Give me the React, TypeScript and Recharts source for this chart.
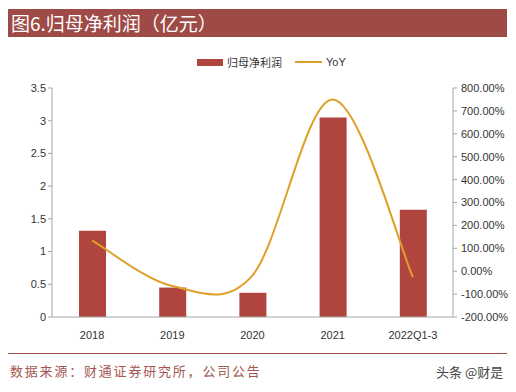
import { ComposedChart, Bar, Line, XAxis, YAxis } from 'recharts'

const categories = ['2018', '2019', '2020', '2021', '2022Q1-3']
const profit = [1.32, 0.45, 0.37, 3.05, 1.64]
const yoy = [135, -65, -18, 750, -26]
const leftTicks = [0, 0.5, 1, 1.5, 2, 2.5, 3, 3.5]
const rightTicks = [-200, -100, 0, 100, 200, 300, 400, 500, 600, 700, 800]

const BAR_COLOR = '#B0443F'
const LINE_COLOR = '#DFA02A'
const AXIS_COLOR = '#A6A6A6'
const FONT = '"Liberation Sans", Arial, sans-serif'
const CJK = '"Noto Sans CJK SC", sans-serif'

const data = categories.map((name, i) => ({ name, profit: profit[i], yoy: yoy[i] }))

// Excel-like smoothed line (Catmull-Rom through the points)
function excelSmooth(context: any) {
  let pts: [number, number][] = []
  return {
    areaStart() {},
    areaEnd() {},
    lineStart() {
      pts = []
    },
    lineEnd() {
      if (!pts.length) return
      context.moveTo(pts[0][0], pts[0][1])
      for (let i = 0; i < pts.length - 1; i++) {
        const p0 = pts[Math.max(i - 1, 0)]
        const p1 = pts[i]
        const p2 = pts[i + 1]
        const p3 = pts[Math.min(i + 2, pts.length - 1)]
        context.bezierCurveTo(
          p1[0] + (p2[0] - p0[0]) / 6,
          p1[1] + (p2[1] - p0[1]) / 6,
          p2[0] - (p3[0] - p1[0]) / 6,
          p2[1] - (p3[1] - p1[1]) / 6,
          p2[0],
          p2[1]
        )
      }
    },
    point(x: number, y: number) {
      pts.push([+x, +y])
    },
  }
}

export default function App() {
  return (
    <div style={{ position: 'absolute', left: 0, top: 0, width: 516, height: 392, background: '#fff', overflow: 'hidden' }}>
      {/* title bar */}
      <div
        style={{
          position: 'absolute',
          left: 8,
          top: 9,
          width: 499,
          height: 28,
          background: '#9E4A46',
          color: '#fff',
          fontFamily: CJK,
          fontSize: 19,
          lineHeight: '28px',
          paddingLeft: 3,
          boxSizing: 'border-box',
        }}
      >
        图6.归母净利润（亿元）
      </div>

      {/* legend */}
      <div style={{ position: 'absolute', left: 197, top: 54, height: 16, display: 'flex', alignItems: 'center', fontFamily: CJK, fontSize: 11, color: '#333' }}>
        <span style={{ display: 'inline-block', width: 26, height: 7, background: BAR_COLOR, marginRight: 4 }} />
        <span>归母净利润</span>
        <span style={{ display: 'inline-block', width: 27, height: 2, background: LINE_COLOR, marginLeft: 13, marginRight: 4 }} />
        <span style={{ fontFamily: FONT }}>YoY</span>
      </div>

      <div style={{ position: 'absolute', left: 0, top: 0 }}>
        <ComposedChart width={516} height={392} data={data} margin={{ top: 88, right: 3, bottom: 45, left: 12 }}>
          <XAxis
            dataKey="name"
            axisLine={{ stroke: AXIS_COLOR }}
            tickLine={false}
            tick={{ fill: '#333', fontSize: 11, fontFamily: FONT }}
            height={30}
            tickMargin={8}
          />
          <YAxis
            yAxisId="left"
            domain={[0, 3.5]}
            ticks={leftTicks}
            width={40}
            axisLine={{ stroke: AXIS_COLOR }}
            tickLine={{ stroke: AXIS_COLOR }}
            tickSize={4}
            tick={{ fill: '#333', fontSize: 11, fontFamily: FONT }}
          />
          <YAxis
            yAxisId="right"
            orientation="right"
            domain={[-200, 800]}
            ticks={rightTicks}
            width={60}
            axisLine={{ stroke: AXIS_COLOR }}
            tickLine={{ stroke: AXIS_COLOR }}
            tickSize={4}
            tickMargin={4}
            tick={{ fill: '#333', fontSize: 11, fontFamily: FONT }}
            tickFormatter={(v: number) => `${v.toFixed(2)}%`}
          />
          <Bar yAxisId="left" dataKey="profit" fill={BAR_COLOR} barSize={27} isAnimationActive={false} />
          <Line
            yAxisId="right"
            dataKey="yoy"
            type={excelSmooth as any}
            stroke={LINE_COLOR}
            strokeWidth={2}
            dot={false}
            activeDot={false}
            isAnimationActive={false}
          />
        </ComposedChart>
      </div>

      {/* footer */}
      <div style={{ position: 'absolute', left: 8, top: 353, width: 499, height: 1, background: '#A0524D' }} />
      <div style={{ position: 'absolute', left: 10, top: 362, fontFamily: CJK, fontSize: 13, letterSpacing: 1.8, color: '#A45650', lineHeight: '18px' }}>
        数据来源：财通证券研究所，公司公告
      </div>
      <div style={{ position: 'absolute', left: 436, top: 363, fontFamily: CJK, fontSize: 13, color: '#444', lineHeight: '18px' }}>
        头条 @财是
      </div>
    </div>
  )
}
